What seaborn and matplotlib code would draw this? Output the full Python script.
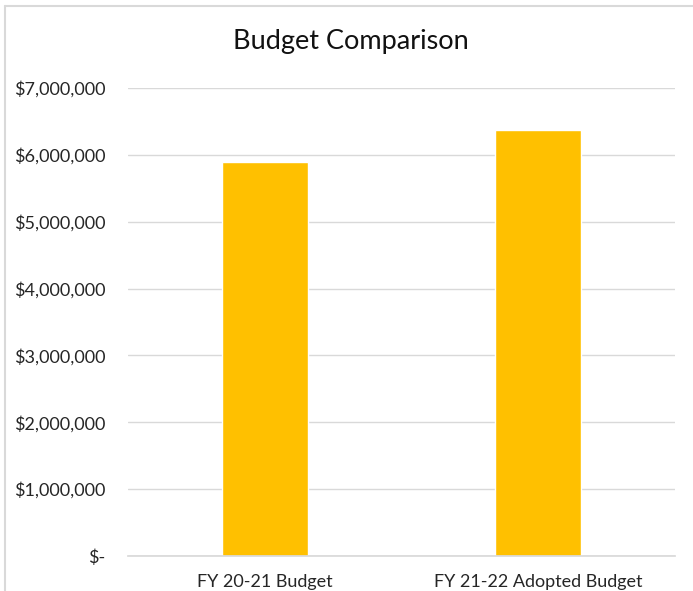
import matplotlib
matplotlib.use("Agg")
import matplotlib.pyplot as plt
import matplotlib.ticker as mticker
import seaborn as sns
import pandas as pd

categories = ["FY 20-21 Budget", "FY 21-22 Adopted Budget"]
values = [5895000, 6372000]
title = "Budget Comparison"

sns.set_theme(style="white")
plt.rcParams['font.family'] = ['Lato', 'DejaVu Sans']

df = pd.DataFrame({"cat": categories, "val": values})

fig = plt.figure(figsize=(6.93, 5.91), dpi=100)
ax = fig.add_axes([128/693, 1-556/591, (675-128)/693, (556-88)/591])

sns.barplot(data=df, x="cat", y="val", color="#FFC000", saturation=1, width=0.315, ax=ax)

ax.set_ylim(0, 7000000)
ax.set_yticks(range(0, 7000001, 1000000))
def fmt(v, pos):
    if v == 0:
        return "$-"
    return "${:,.0f}".format(v)
ax.yaxis.set_major_formatter(mticker.FuncFormatter(fmt))
ax.grid(axis="y", color="#D9D9D9", linewidth=1)
ax.set_axisbelow(True)
for s in ["top", "right", "left"]:
    ax.spines[s].set_visible(False)
ax.spines["bottom"].set_color("#D9D9D9")
ax.set_xlabel("")
ax.set_ylabel("")
ax.tick_params(axis="y", length=0, pad=16, labelsize=13, labelcolor="#262626")
ax.tick_params(axis="x", length=0, pad=13, labelsize=13, labelcolor="#262626")

fig.text(351/693, 1-42/591, title, ha="center", va="center", fontsize=19.5, color="#111111")

# chart frame
fig.add_artist(plt.Line2D([5/693, 5/693], [0, 1-6/591], transform=fig.transFigure, color="#D9D9D9", linewidth=1.5))
fig.add_artist(plt.Line2D([5/693, 1], [1-6/591, 1-6/591], transform=fig.transFigure, color="#D9D9D9", linewidth=1.5))

fig.savefig("out.png", dpi=100, facecolor="white")
